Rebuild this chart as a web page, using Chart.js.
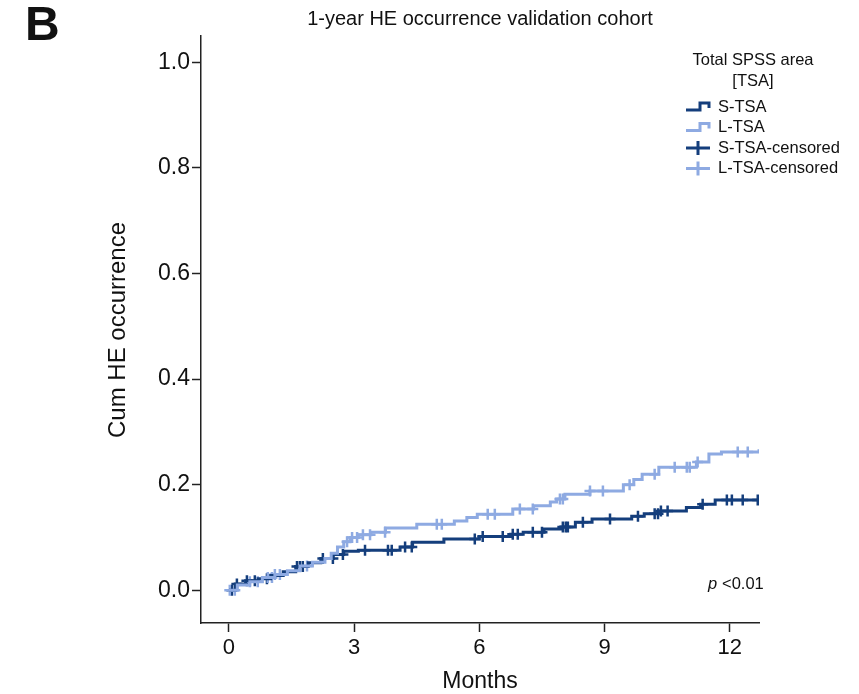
<!DOCTYPE html>
<html>
<head>
<meta charset="utf-8">
<script src="https://cdn.jsdelivr.net/npm/chart.js@4"></script>
<style>
  body { margin: 0; background: #fff; }
  canvas { display: block; }
</style>
</head>
<body>
<canvas id="grafico" width="859" height="694"></canvas>
<script>
// step points of the cumulative curves (months, cum HE occurrence)
const sMonths = [0, 0.15, 0.4, 0.7, 1.0, 1.3, 1.6, 1.9, 2.2, 2.5, 2.75, 3.1, 4.1, 4.4, 5.15, 6.0, 6.75, 7.05, 7.55, 7.95, 8.3, 8.7, 9.65, 9.95, 10.3, 10.96, 11.3, 11.65, 12.7];
const sCum = [0, 0.012, 0.018, 0.022, 0.028, 0.035, 0.045, 0.052, 0.06, 0.068, 0.074, 0.076, 0.082, 0.091, 0.097, 0.102, 0.106, 0.11, 0.116, 0.12, 0.129, 0.135, 0.14, 0.145, 0.15, 0.157, 0.163, 0.171, 0.173];

const lMonths = [0, 0.2, 0.5, 0.8, 1.1, 1.4, 1.7, 2.0, 2.3, 2.45, 2.6, 2.75, 2.9, 3.1, 3.4, 3.75, 4.5, 5.4, 5.7, 5.95, 6.8, 7.3, 7.7, 7.85, 8.05, 8.65, 9.45, 9.7, 9.9, 10.3, 11.2, 11.5, 11.8, 12.7];
const lCum = [0, 0.01, 0.016, 0.024, 0.03, 0.037, 0.046, 0.053, 0.06, 0.07, 0.082, 0.092, 0.1, 0.105, 0.11, 0.118, 0.125, 0.131, 0.138, 0.144, 0.154, 0.16, 0.167, 0.173, 0.182, 0.188, 0.2, 0.21, 0.22, 0.233, 0.243, 0.258, 0.262, 0.267];

// censored times (months)
const sCensored = [0.07, 0.19, 0.43, 0.62, 0.91, 1.63, 1.7, 1.77, 2.25, 2.49, 2.73, 3.26, 3.81, 3.9, 4.22, 4.38, 5.89, 6.08, 6.56, 6.8, 6.92, 7.28, 7.5, 8.0, 8.07, 8.12, 8.48, 9.13, 9.8, 10.2, 10.28, 10.35, 10.51, 11.35, 11.93, 12.05, 12.31, 12.67];
const lCensored = [0.02, 0.14, 0.5, 0.69, 0.93, 1.03, 1.1, 1.22, 1.87, 2.83, 2.95, 3.07, 3.21, 3.38, 3.74, 4.98, 5.1, 6.2, 6.37, 6.97, 7.28, 7.93, 8.0, 8.65, 8.96, 9.6, 10.2, 10.68, 10.97, 11.04, 11.23, 12.19, 12.43];

const xTicks = [0, 3, 6, 9, 12];
const yTicks = [0, 0.2, 0.4, 0.6, 0.8, 1.0];

const oscuro = '#143e7c';
const claro = '#8eaae2';
const fuente = '"Liberation Sans", Arial, sans-serif';

function curva(meses, valores) {
    return meses.map((m, i) => ({ x: m, y: valores[i] }));
}

// value of the step curve at time t
function valorEn(meses, valores, t) {
    let v = valores[0];
    for (let i = 0; i < meses.length; i++) {
        if (meses[i] <= t) v = valores[i];
    }
    return v;
}

function censuras(tiempos, meses, valores) {
    return tiempos.map(t => ({ x: t, y: valorEn(meses, valores, t) }));
}

const textos = {
    id: 'textos',
    afterDraw(chart) {
        const c = chart.ctx;
        c.save();
        c.fillStyle = '#111';
        c.textBaseline = 'middle';

        c.font = 'bold 48px ' + fuente;
        c.textAlign = 'left';
        c.fillText('B', 25, 27);

        c.font = '20px ' + fuente;
        c.textAlign = 'center';
        c.fillText('1-year HE occurrence validation cohort', 480, 19);

        c.font = '23px ' + fuente;
        c.fillText('Months', 480, 682);

        c.save();
        c.translate(118, 330);
        c.rotate(-Math.PI / 2);
        c.font = '24px ' + fuente;
        c.fillText('Cum HE occurrence', 0, 0);
        c.restore();

        // p value
        c.font = 'italic 16.5px ' + fuente;
        c.textAlign = 'left';
        c.fillText('p', 708, 584);
        c.font = '16.5px ' + fuente;
        c.fillText('<0.01', 722, 584);

        // legend
        c.font = '16.5px ' + fuente;
        c.textAlign = 'center';
        c.fillText('Total SPSS area', 753, 60);
        c.fillText('[TSA]', 753, 81);

        const items = [
            { t: 'S-TSA', col: oscuro, step: true },
            { t: 'L-TSA', col: claro, step: true },
            { t: 'S-TSA-censored', col: oscuro, step: false },
            { t: 'L-TSA-censored', col: claro, step: false }
        ];
        items.forEach((it, i) => {
            const y = 107 + i * 20.5;
            c.strokeStyle = it.col;
            c.lineWidth = 3;
            c.beginPath();
            if (it.step) {
                c.moveTo(686, y + 3);
                c.lineTo(700, y + 3);
                c.lineTo(700, y - 4);
                c.lineTo(709, y - 4);
                c.lineTo(709, y + 1);
            } else {
                c.moveTo(686, y);
                c.lineTo(710, y);
                c.moveTo(698, y - 7);
                c.lineTo(698, y + 7);
            }
            c.stroke();
            c.fillStyle = '#111';
            c.textAlign = 'left';
            c.fillText(it.t, 718, y);
        });
        c.restore();
    }
};

const ctx = document.getElementById('grafico').getContext('2d');

new Chart(ctx, {
    type: 'line',
    data: {
        datasets: [
            {
                label: 'L-TSA',
                data: curva(lMonths, lCum),
                borderColor: claro,
                borderWidth: 3,
                stepped: true,
                pointRadius: 0,
                fill: false
            },
            {
                label: 'S-TSA',
                data: curva(sMonths, sCum),
                borderColor: oscuro,
                borderWidth: 3,
                stepped: true,
                pointRadius: 0,
                fill: false
            },
            {
                label: 'L-TSA-censored',
                data: censuras(lCensored, lMonths, lCum),
                showLine: false,
                pointStyle: 'cross',
                pointRadius: 5.5,
                pointBorderWidth: 2.5,
                borderColor: claro,
                backgroundColor: claro
            },
            {
                label: 'S-TSA-censored',
                data: censuras(sCensored, sMonths, sCum),
                showLine: false,
                pointStyle: 'cross',
                pointRadius: 5.5,
                pointBorderWidth: 2.5,
                borderColor: oscuro,
                backgroundColor: oscuro
            }
        ]
    },
    options: {
        responsive: false,
        animation: false,
        layout: { padding: { top: 36, right: 100, left: 0, bottom: 0 } },
        plugins: {
            legend: { display: false },
            tooltip: { enabled: false }
        },
        scales: {
            x: {
                type: 'linear',
                min: -0.67,
                max: 12.7,
                afterFit(s) { s.height = 71; },
                afterBuildTicks(s) { s.ticks = xTicks.map(v => ({ value: v })); },
                grid: { drawOnChartArea: false, tickLength: 9, color: '#222', tickWidth: 1.5 },
                border: { display: true, color: '#222', width: 1.5 },
                ticks: {
                    color: '#111',
                    padding: 3,
                    maxRotation: 0,
                    font: { family: fuente, size: 22 }
                }
            },
            y: {
                type: 'linear',
                min: -0.062,
                max: 1.05,
                afterFit(s) { s.width = 201; },
                afterBuildTicks(s) { s.ticks = yTicks.map(v => ({ value: v })); },
                grid: { drawOnChartArea: false, tickLength: 9, color: '#222', tickWidth: 1.5 },
                border: { display: true, color: '#222', width: 1.5 },
                ticks: {
                    color: '#111',
                    padding: 2,
                    font: { family: fuente, size: 23 },
                    callback: v => v.toFixed(1)
                }
            }
        }
    },
    plugins: [textos]
});
</script>
</body>
</html>
